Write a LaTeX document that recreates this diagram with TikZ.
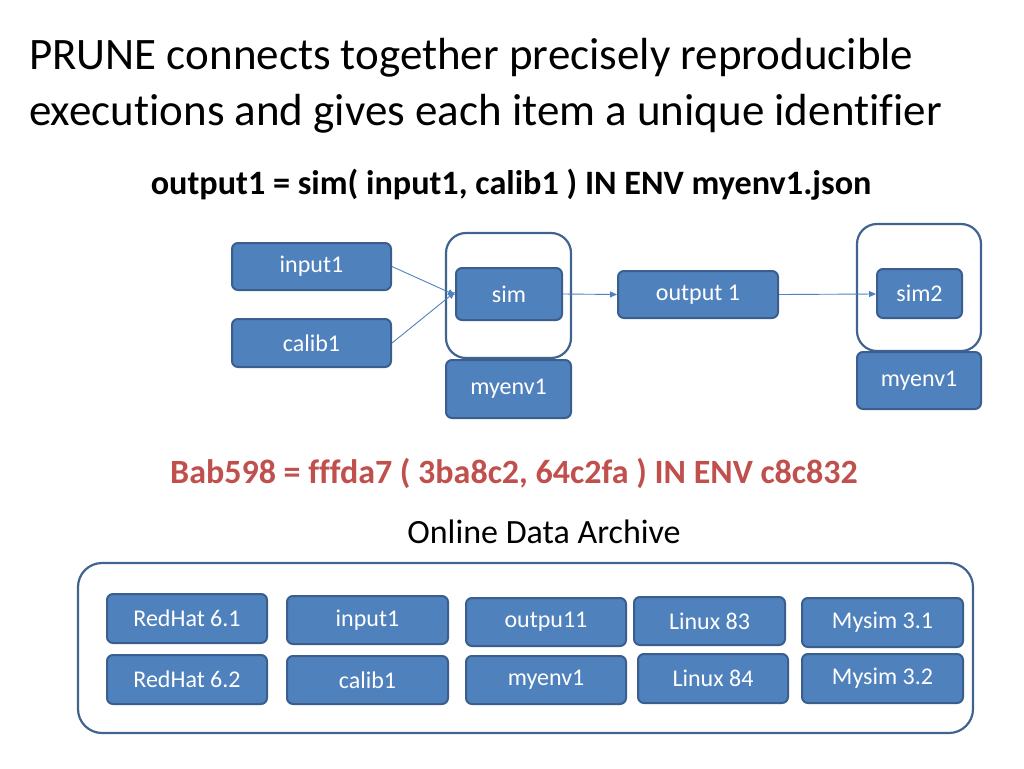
\documentclass[tikz,border=0pt]{standalone}
\usepackage{fontspec}
\setmainfont{Carlito}[Ligatures={NoCommon}]
\usetikzlibrary{arrows.meta}
\definecolor{boxfill}{HTML}{4F81BD}
\definecolor{boxedge}{HTML}{3A5F8E}
\definecolor{outedge}{HTML}{41648F}
\definecolor{redtext}{HTML}{C0504D}
\tikzset{
  blk/.style={draw=boxedge, line width=2pt, fill=boxfill, rounded corners=6pt,
    text=white, font=\fontsize{24}{28}\selectfont, inner sep=0pt},
  envbox/.style={draw=outedge, line width=2.2pt, fill=white, rounded corners=20pt, inner sep=0pt},
  conn/.style={draw=boxfill, line width=0.9pt, -{Triangle[length=7pt,width=6pt]}},
}
\begin{document}
\begin{tikzpicture}[x=1pt,y=-1pt]
\useasboundingbox (0,0) rectangle (1024,768);
% title
\node[anchor=base west, inner sep=0pt, font=\fontsize{45}{54}\selectfont] (t1) at (29,70) {PRUNE connects together precisely reproducible};
\node[anchor=base west, inner sep=0pt, font=\fontsize{45}{54}\selectfont] (t2) at (29,125) {executions and gives each item a unique identifier};
\node[anchor=base, inner sep=0pt, font=\bfseries\fontsize{34.2}{38}\selectfont] (expr) at (511,194) {output1 = sim( input1, calib1 ) IN ENV myenv1.json};
% upper diagram
\node[envbox, minimum width=125pt, minimum height=125pt] (simenv) at (508.5,295.5) {};
\node[envbox, minimum width=124pt, minimum height=127pt] (sim2env) at (919,287.5) {};
\node[blk, minimum width=159pt, minimum height=47pt] (input1) at (311.5,266.5) {input1};
\node[blk, minimum width=159pt, minimum height=48pt] (calib1) at (311.5,343) {calib1};
\node[blk, minimum width=106pt, minimum height=52pt] (sim) at (509,294) {sim};
\node[blk, minimum width=125pt, minimum height=58pt] (myenvA) at (508.5,389) {myenv1};
\node[blk, minimum width=160pt, minimum height=47pt] (out1) at (698,294.5) {output 1};
\node[blk, minimum width=85pt, minimum height=49pt] (sim2) at (919.5,293.5) {sim2};
\node[blk, minimum width=124pt, minimum height=57pt] (myenvB) at (919,380.5) {myenv1};
\draw[conn] (input1.east) -- ([yshift=-1pt]sim.west);
\draw[conn] (calib1.east) -- ([yshift=2pt]sim.west);
\draw[conn] (sim.east) -- (out1.west);
\draw[conn] (out1.east) -- ([yshift=-0.5pt]sim2.west);
% hash line
\node[anchor=base, inner sep=0pt, text=redtext, font=\bfseries\fontsize{34}{38}\selectfont] (hash) at (514,483) {Bab598 = fffda7 ( 3ba8c2, 64c2fa ) IN ENV c8c832};
\node[anchor=base, inner sep=0pt, font=\fontsize{34}{40}\selectfont] (oda) at (544,543) {Online Data Archive};
% archive
\node[envbox, rounded corners=24pt, minimum width=895pt, minimum height=170pt] (archive) at (525.5,648) {};
\node[blk, minimum width=160pt, minimum height=49pt] (rh61) at (187,618.5) {RedHat 6.1};
\node[blk, minimum width=161pt, minimum height=48pt] (in1) at (367.5,620) {input1};
\node[blk, minimum width=160pt, minimum height=48pt] (outp) at (546,622) {outpu11};
\node[blk, minimum width=151pt, minimum height=48pt] (lx83) at (709.5,621) {Linux 83};
\node[blk, minimum width=161pt, minimum height=49pt] (ms31) at (882.5,622.5) {Mysim 3.1};
\node[blk, minimum width=160pt, minimum height=49pt] (rh62) at (187,679.5) {RedHat 6.2};
\node[blk, minimum width=161pt, minimum height=48pt] (cal1) at (367.5,680) {calib1};
\node[blk, minimum width=160pt, minimum height=48pt] (myenvC) at (546,680) {myenv1};
\node[blk, minimum width=150pt, minimum height=49pt] (lx84) at (713,678.5) {Linux 84};
\node[blk, minimum width=161pt, minimum height=49pt] (ms32) at (882.5,678.5) {Mysim 3.2};
\end{tikzpicture}
\end{document}
